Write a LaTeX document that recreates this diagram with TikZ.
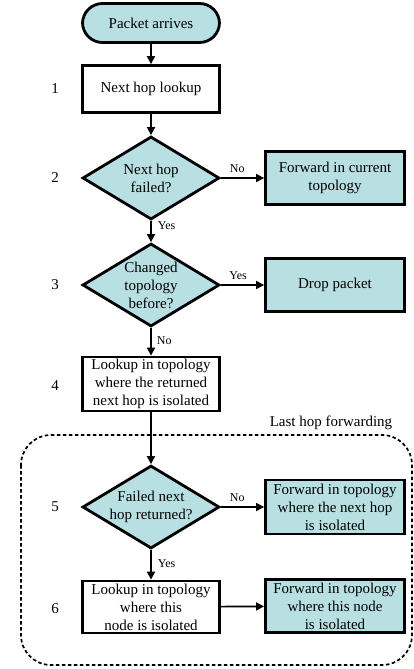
\documentclass[tikz,border=0pt]{standalone}
\usepackage{fontspec}
\setmainfont{Liberation Serif}
\usetikzlibrary{shapes.geometric,arrows.meta}
\definecolor{boxfill}{RGB}{184,224,227}
\tikzset{
  every node/.style={font=\fontsize{15}{18}\selectfont},
  terminal/.style={draw, line width=2.8pt, fill=boxfill, rounded corners=20pt,
    minimum width=137pt, minimum height=39pt},
  process/.style={draw, line width=2.8pt, align=center, inner sep=1pt,
    minimum width=137pt},
  action/.style={process, fill=boxfill, minimum width=139pt},
  decision/.style={draw, line width=2.8pt, fill=boxfill, diamond, inner sep=0pt,
    minimum width=137pt, minimum height=83pt},
  decisiontext/.style={align=center, inner sep=0pt},
  steplabel/.style={font=\fontsize{15}{18}\selectfont},
  edgelabel/.style={font=\fontsize{12}{14}\selectfont, inner sep=2pt},
  flow/.style={line width=1.7pt, -{Triangle[length=8pt,width=8pt]}},
  group/.style={dash pattern=on 3.5pt off 2.5pt, line width=1.7pt, rounded corners=30pt}
}
\begin{document}
\begin{tikzpicture}[x=1pt,y=-1pt]
  \useasboundingbox (0,0) rectangle (414,669);
  % main column
  \node[terminal] (start) at (151,23) {Packet arrives};
  \node[process, minimum height=47pt] (lookup) at (151,89) {Next hop lookup};
  \node[decision, label={[decisiontext]center:{Next hop\\failed?}}] (failed) at (151,178) {};
  \node[decision, label={[decisiontext]center:{Changed\\topology\\before?}}] (changed) at (151,285) {};
  \node[process, minimum height=54pt] (isolookup) at (151,384)
    {Lookup in topology\\where the returned\\next hop is isolated};
  \node[decision, label={[decisiontext]center:{Failed next\\hop returned?}}] (returned) at (151,507) {};
  \node[process, minimum height=52pt] (selflookup) at (151,607)
    {Lookup in topology\\where this\\node is isolated};
  % right column
  \node[action, minimum height=53pt] (fwdcur) at (335,178) {Forward in current\\topology};
  \node[action, minimum height=53pt] (drop) at (335,285) {Drop packet};
  \node[action, minimum height=54pt] (fwdnext) at (335,507)
    {Forward in topology\\where the next hop\\is isolated};
  \node[action, minimum height=53pt] (fwdself) at (335,606)
    {Forward in topology\\where this node\\is isolated};
  % step numbers
  \node[steplabel] (s1) at (55,89) {1};
  \node[steplabel] (s2) at (55,178) {2};
  \node[steplabel] (s3) at (55,285) {3};
  \node[steplabel] (s4) at (55,386) {4};
  \node[steplabel] (s5) at (55,507) {5};
  \node[steplabel] (s6) at (55,609) {6};
  % last hop forwarding
  \draw[group] (21,435) rectangle (412,665);
  \node (lasthop) at (331,423) {Last hop forwarding};
  \begin{scope}[flow]
    \draw (start) -- (lookup);
    \draw (lookup) -- (failed);
    \draw (failed) -- node[edgelabel, above=3pt, pos=.38] {No} (fwdcur);
    \draw (failed) -- node[edgelabel, right=4pt, pos=.2] {Yes} (changed);
    \draw (changed) -- node[edgelabel, above=3pt, pos=.4] {Yes} (drop);
    \draw (changed) -- node[edgelabel, right=3pt, pos=.45] {No} (isolookup);
    \draw (isolookup) -- (returned);
    \draw (returned) -- node[edgelabel, above=3pt, pos=.38] {No} (fwdnext);
    \draw (returned) -- node[edgelabel, right=4pt, pos=.45] {Yes} (selflookup);
    \draw (selflookup) -- (fwdself);
  \end{scope}
\end{tikzpicture}
\end{document}
